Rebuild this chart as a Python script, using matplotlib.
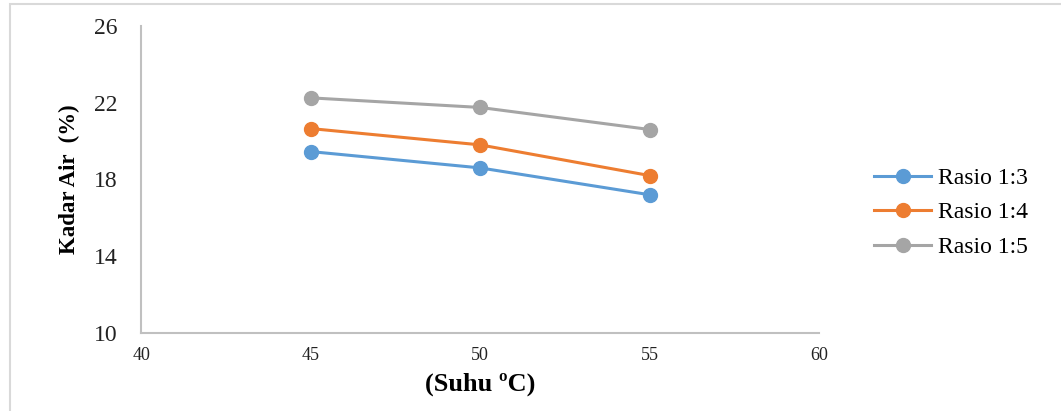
import matplotlib.pyplot as plt
from matplotlib.patches import Rectangle

suhu = [45, 50, 55]
rasio_13 = [19.45, 18.6, 17.2]
rasio_14 = [20.65, 19.8, 18.2]
rasio_15 = [22.25, 21.75, 20.6]
labels = ["Rasio 1:3", "Rasio 1:4", "Rasio 1:5"]
colors = ["#5b9bd5", "#ed7d31", "#a5a5a5"]

plt.rcParams['font.family'] = ['Liberation Serif', 'DejaVu Serif']

fig = plt.figure(figsize=(10.61, 4.11), dpi=100)
ax = fig.add_axes([0.133, 0.19, 0.639, 0.747])

for vals, lab, c in zip([rasio_13, rasio_14, rasio_15], labels, colors):
    ax.plot(suhu, vals, color=c, lw=2.2, marker='o', ms=10, label=lab)

ax.set_xlim(40, 60)
ax.set_ylim(10, 26)
ax.set_xticks([40, 45, 50, 55, 60])
ax.set_yticks([10, 14, 18, 22, 26])
ax.tick_params(length=0, colors='#222222')
ax.tick_params(axis='x', labelsize=13, pad=10)
ax.tick_params(axis='y', labelsize=17, pad=17)
for s in ['top', 'right']:
    ax.spines[s].set_visible(False)
for s in ['left', 'bottom']:
    ax.spines[s].set_color('#c0c0c0')
    ax.spines[s].set_linewidth(1.5)

ax.set_xlabel("(Suhu \u00baC)", fontsize=19, fontweight='bold', labelpad=6)
ax.set_ylabel("Kadar Air  (%)", fontsize=16.5, fontweight='bold', labelpad=10)

ax.legend(loc='center left', bbox_to_anchor=(1.05, 0.392), frameon=False,
          fontsize=17, handlelength=2.4, labelspacing=0.55, handletextpad=0.3)

fig.patches.append(Rectangle((0.0095, -0.05), 1.1, 1.04, transform=fig.transFigure,
                             fill=False, edgecolor='#d9d9d9', lw=1.5))

fig.savefig("out.png", dpi=100)
